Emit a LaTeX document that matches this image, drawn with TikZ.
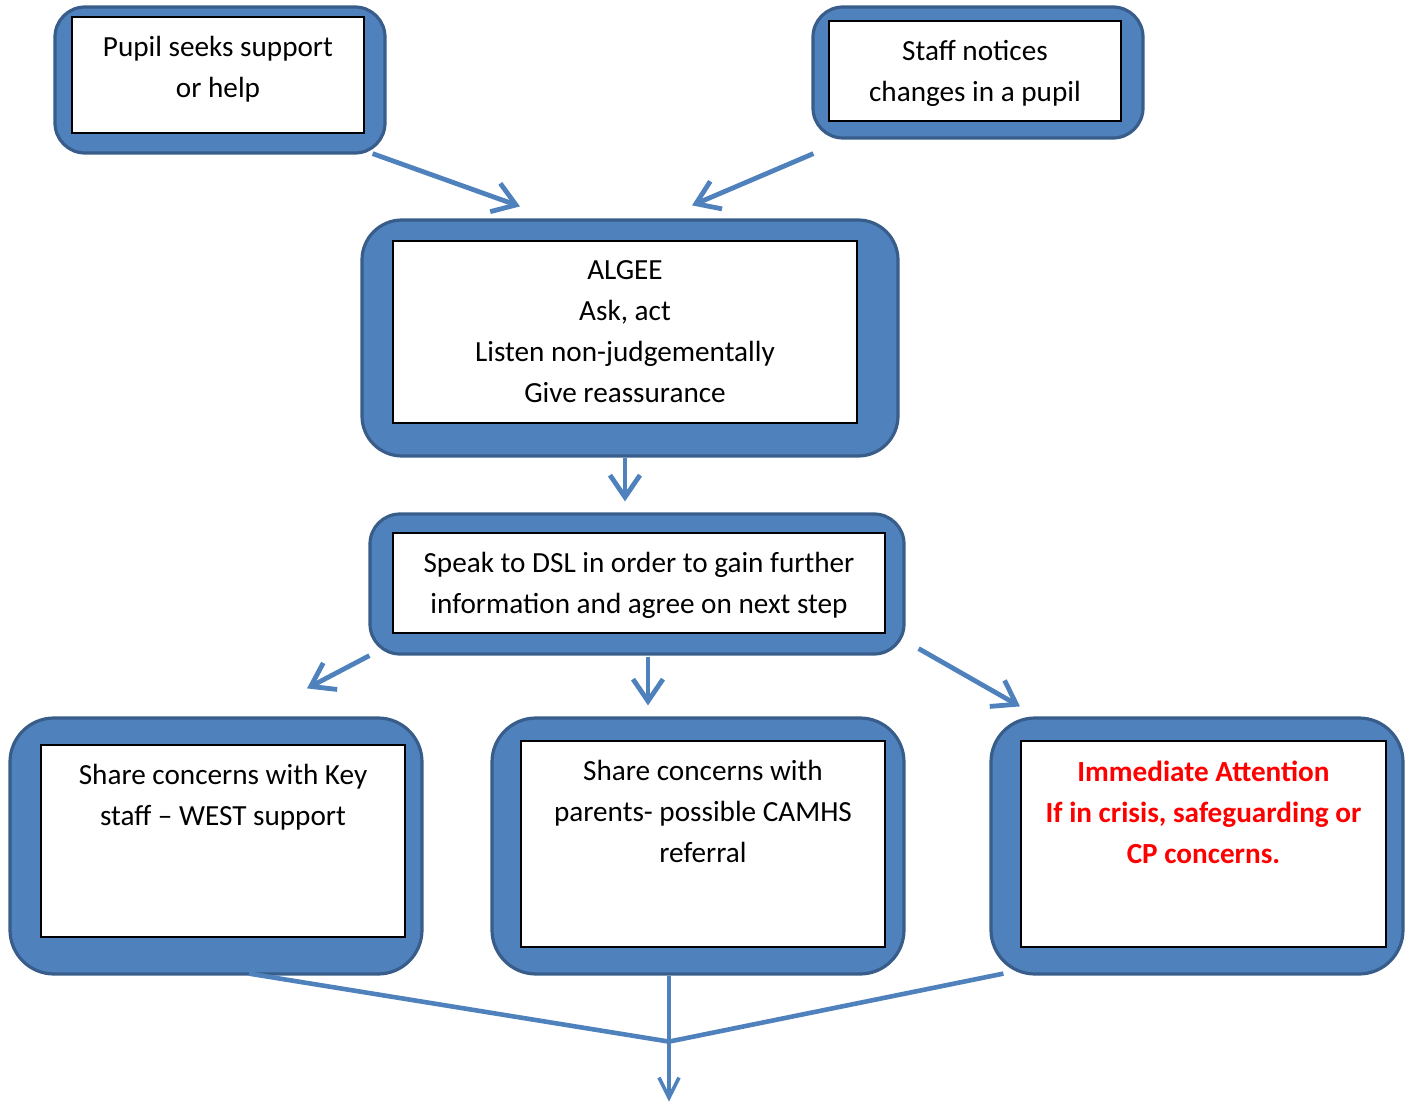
\documentclass[tikz,border=0pt]{standalone}
\usepackage{fontspec}
\setmainfont{Carlito}
\usetikzlibrary{arrows.meta,positioning,calc}
\definecolor{boxblue}{HTML}{4F81BD}
\definecolor{boxedge}{HTML}{385D8A}
\definecolor{alertred}{HTML}{FF0000}
\begin{document}
\begin{tikzpicture}[
  x=0.5pt, y=-0.5pt,
  font=\fontsize{14.6}{20.5}\selectfont, >={Straight Barb[length=11pt,width=15pt]},
  shell/.style={draw=boxedge, line width=1.6pt, fill=boxblue, rounded corners=#1, inner sep=0pt},
  shell/.default=15pt,
  panel/.style={draw=black, line width=0.9pt, fill=white, inner sep=0pt},
  words/.style={align=center, anchor=north, inner sep=0pt},
  link/.style={->, line width=2.4pt, boxblue},
  feed/.style={line width=2.3pt, boxblue},
]
\useasboundingbox (0,0) rectangle (1410,1102);
% top row
\node[shell, minimum width=165pt, minimum height=73pt] (pupil) at (220,80) {};
\node[panel, minimum width=146pt, minimum height=58pt] (pupil-in) at (218,75) {};
\node[words] at ($(pupil-in.north)+(0,20)$) {Pupil seeks support\\or help};
\node[shell, minimum width=165pt, minimum height=65.5pt] (staff) at (978,72.5) {};
\node[panel, minimum width=146pt, minimum height=50pt] (staff-in) at (975,71) {};
\node[words] at ($(staff-in.north)+(0,20)$) {Staff notices\\changes in a pupil};
% ALGEE
\node[shell=20pt, minimum width=268pt, minimum height=118pt] (algee) at (630,338) {};
\node[panel, minimum width=232pt, minimum height=91pt] (algee-in) at (625,332) {};
\node[words] at ($(algee-in.north)+(0,20)$) {ALGEE\\Ask, act\\Listen non-judgementally\\Give reassurance};
% DSL
\node[shell, minimum width=267pt, minimum height=70pt] (dsl) at (637,584) {};
\node[panel, minimum width=246pt, minimum height=50pt] (dsl-in) at (639,583) {};
\node[words] at ($(dsl-in.north)+(0,20)$) {Speak to DSL in order to gain further\\information and agree on next step};
% bottom row
\node[shell=22pt, minimum width=206pt, minimum height=128pt] (keystaff) at (216,846) {};
\node[panel, minimum width=182pt, minimum height=96pt] (keystaff-in) at (223,841) {};
\node[words] at ($(keystaff-in.north)+(0,20)$) {Share concerns with Key\\staff -- WEST support};
\node[shell=22pt, minimum width=206pt, minimum height=128pt] (parents) at (698,846) {};
\node[panel, minimum width=182pt, minimum height=103pt] (parents-in) at (703,844) {};
\node[words] at ($(parents-in.north)+(0,20)$) {Share concerns with\\parents- possible CAMHS\\referral};
\node[shell=22pt, minimum width=206pt, minimum height=128pt] (urgent) at (1197,846) {};
\node[panel, minimum width=182.5pt, minimum height=103pt] (urgent-in) at (1203.5,844) {};
\node[words, font=\fontsize{14.6}{20.5}\selectfont\bfseries, alertred] at ($(urgent-in.north)+(0,20)$)
  {Immediate Attention\\If in crisis, safeguarding or\\CP concerns.};
% arrows
\draw[link] ($(pupil.south east)+(-14,-1)$) -- ($(algee.north)+(-110,-12)$);
\draw[link] ($(staff.south west)+(2,14)$) -- ($(algee.north)+(62,-13)$);
\draw[link] ($(algee.south)+(-5,0)$) -- ($(dsl.north)+(-12,-11)$);
\draw[link] ($(dsl.south west)+(1,0)$) -- ($(keystaff.north)+(91,-28)$);
\draw[link] ($(dsl.south)+(11,1)$) -- ($(parents.north)+(-50,-11)$);
\draw[link] ($(dsl.south east)+(13,-7)$) -- ($(urgent.north)+(-177,-10)$);
% merge
\coordinate (merge) at ($(parents.south)+(-29,66)$);
\coordinate (exit) at ($(parents.south)+(-29,126)$);
\draw[feed] ($(keystaff.south)+(33,-2)$) -- (merge);
\draw[feed] ($(urgent.south west)+(14,-2)$) -- (merge);
\draw[link, line width=1.8pt, >={Straight Barb[length=10pt,width=10pt]}] ($(parents.south)+(-29,0)$) -- (exit);
\end{tikzpicture}
\end{document}
